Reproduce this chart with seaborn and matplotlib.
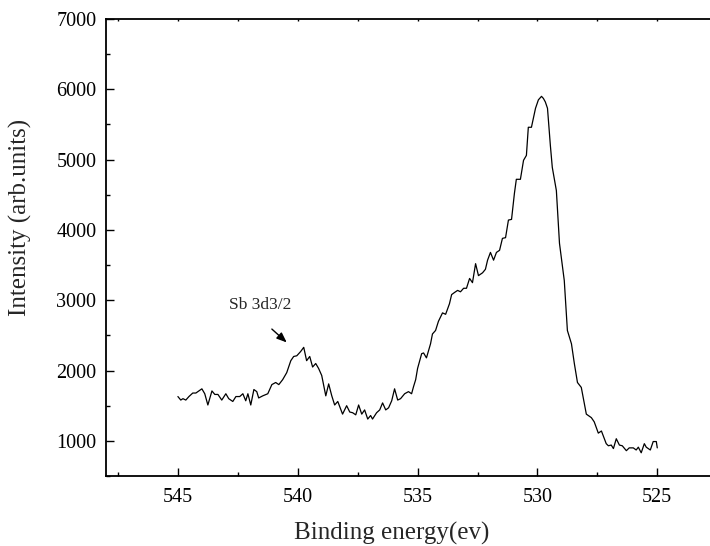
import matplotlib
matplotlib.use("Agg")
import matplotlib.pyplot as plt
import seaborn as sns
import pandas as pd
from matplotlib.ticker import MultipleLocator

binding_energy = [
    545.00, 544.88, 544.79, 544.67, 544.54, 544.38, 544.25, 544.00, 543.88, 543.75,
    543.58, 543.46, 543.33, 543.17, 543.00, 542.88, 542.71, 542.58, 542.42, 542.29,
    542.17, 542.08, 541.96, 541.83, 541.71, 541.63, 541.46, 541.25, 541.08, 540.92,
    540.79, 540.63, 540.46, 540.29, 540.17, 540.04, 539.88, 539.75, 539.63, 539.50,
    539.38, 539.25, 539.13, 539.00, 538.83, 538.71, 538.58, 538.46, 538.33, 538.13,
    537.96, 537.83, 537.71, 537.58, 537.46, 537.33, 537.21, 537.08, 536.96, 536.88,
    536.71, 536.58, 536.46, 536.33, 536.21, 536.08, 535.96, 535.83, 535.71, 535.54,
    535.38, 535.25, 535.17, 535.08, 535.00, 534.83, 534.75, 534.63, 534.46, 534.38,
    534.25, 534.13, 533.96, 533.83, 533.67, 533.58, 533.46, 533.33, 533.21, 533.08,
    532.96, 532.83, 532.71, 532.58, 532.46, 532.29, 532.17, 532.08, 531.96, 531.83,
    531.71, 531.58, 531.46, 531.33, 531.21, 531.08, 530.96, 530.88, 530.71, 530.58,
    530.46, 530.38, 530.25, 530.08, 529.96, 529.83, 529.75, 529.67, 529.58, 529.46,
    529.38, 529.21, 529.08, 528.88, 528.75, 528.58, 528.46, 528.33, 528.17, 527.96,
    527.75, 527.63, 527.46, 527.33, 527.13, 527.04, 526.92, 526.83, 526.71, 526.58,
    526.46, 526.29, 526.17, 526.00, 525.88, 525.79, 525.67, 525.54, 525.46, 525.29,
    525.17, 525.04, 525.00,
]

intensity = [
    1630, 1580, 1600, 1580, 1630, 1680, 1680, 1740, 1670, 1510,
    1710, 1660, 1660, 1580, 1670, 1600, 1560, 1630, 1630, 1670,
    1570, 1670, 1510, 1730, 1700, 1610, 1640, 1670, 1800, 1830,
    1800, 1870, 1970, 2140, 2200, 2210, 2270, 2330, 2140, 2200,
    2050, 2100, 2030, 1930, 1640, 1810, 1640, 1510, 1560, 1380,
    1500, 1410, 1400, 1370, 1510, 1380, 1440, 1310, 1360, 1310,
    1400, 1440, 1540, 1440, 1470, 1570, 1740, 1580, 1600, 1670,
    1700, 1670, 1770, 1870, 2030, 2240, 2250, 2180, 2380, 2520,
    2570, 2700, 2820, 2800, 2950, 3080, 3110, 3140, 3120, 3170,
    3170, 3310, 3250, 3520, 3350, 3390, 3440, 3570, 3680, 3570,
    3680, 3710, 3880, 3890, 4140, 4150, 4520, 4720, 4720, 4990,
    5060, 5460, 5460, 5730, 5850, 5900, 5870, 5820, 5730, 5200,
    4890, 4560, 3810, 3280, 2570, 2380, 2100, 1830, 1760, 1380,
    1330, 1270, 1110, 1140, 960, 930, 940, 890, 1030, 940,
    930, 860, 900, 900, 870, 910, 830, 960, 910, 870,
    990, 990, 900,
]

x_ticks = [545, 540, 535, 530, 525]
y_ticks = [1000, 2000, 3000, 4000, 5000, 6000, 7000]
peak_label = "Sb 3d3/2"
x_label = "Binding energy(ev)"
y_label = "Intensity (arb.units)"

df = pd.DataFrame({"be": binding_energy, "counts": intensity})

sns.set_theme(style="ticks")
plt.rcParams["font.family"] = ["Liberation Serif", "DejaVu Serif"]
plt.rcParams["mathtext.fontset"] = "dejavuserif"

fig = plt.figure(figsize=(7.10, 5.46), dpi=100)
ax = fig.add_axes([106 / 710, 1 - 476 / 546, 1 - 106 / 710, (476 - 19) / 546])

sns.lineplot(data=df, x="be", y="counts", sort=False, estimator=None,
             color="black", linewidth=0.9, ax=ax)

ax.set_xlim(548.0, 522.8)
ax.set_ylim(500, 7000)
ax.set_xticks(x_ticks)
ax.set_yticks(y_ticks)
ax.xaxis.set_minor_locator(MultipleLocator(2.5))
ax.yaxis.set_minor_locator(MultipleLocator(500))

for side in ["left", "bottom", "top"]:
    ax.spines[side].set_linewidth(1.3)
    ax.spines[side].set_color("black")
ax.spines["right"].set_visible(False)

ax.tick_params(axis="both", which="major", direction="in", length=6,
               width=1.0, colors="black", labelsize=14.5)
ax.tick_params(axis="both", which="minor", direction="in", length=3, width=1.0,
               colors="black")
ax.tick_params(axis="x", which="major", pad=9)
ax.tick_params(axis="y", which="major", pad=7)
ax.tick_params(axis="x", which="both", top=True, labeltop=False)
ax.xaxis.set_tick_params(which="both", top=True)
for t in ax.xaxis.get_major_ticks() + ax.xaxis.get_minor_ticks():
    t.tick2line.set_markersize(1.5)
    t.tick2line.set_color("#888888")

ax.set_xlabel(x_label, fontsize=18)
ax.set_ylabel(y_label, fontsize=18)
ax.xaxis.set_label_coords((392 - 106) / (710 - 106), -(533 - 476) / (476 - 19))
ax.yaxis.set_label_coords(-(106 - 20) / (710 - 106), (476 - 217) / (476 - 19))
ax.xaxis.label.set_va("center")
ax.yaxis.label.set_va("center")

ax.text(541.55, 2930, peak_label, fontsize=12.5, ha="center", va="center")
ax.annotate("", xy=(540.46, 2400), xytext=(541.08, 2590),
            arrowprops=dict(arrowstyle="-|>,head_length=0.5,head_width=0.2",
                            color="black", lw=1.0, shrinkA=0, shrinkB=0))

ax.grid(False)
fig.savefig("out.png", dpi=100)
